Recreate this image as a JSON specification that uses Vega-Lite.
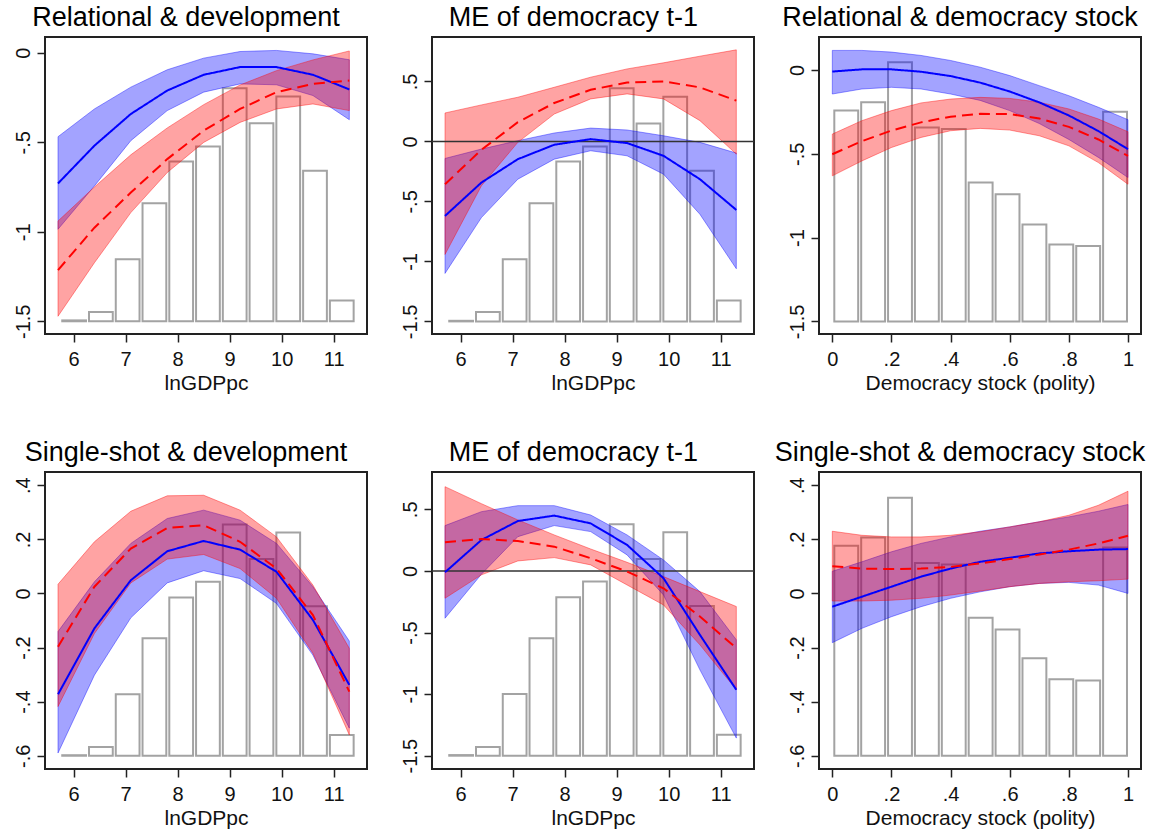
{
  "$schema": "https://vega.github.io/schema/vega-lite/v6.json",
  "background": "white",
  "padding": {"left": 12, "top": 3, "right": 5, "bottom": 2},
  "config": {
    "font": "Liberation Sans",
    "view": {"stroke": "#222222", "strokeWidth": 2},
    "axis": {"grid": false, "domain": false, "ticks": true, "tickSize": 8, "tickColor": "#222222", "tickWidth": 1.5,
             "labelFont": "Liberation Sans", "labelFontSize": 20, "labelColor": "#111111", "labelFlush": false, "labelOverlap": false,
             "titleFont": "Liberation Sans", "titleFontSize": 21, "titleFontWeight": "normal", "titleColor": "#111111"},
    "axisY": {"labelAngle": -90, "labelAlign": "center", "labelBaseline": "alphabetic", "labelPadding": 8},
    "axisX": {"labelPadding": 7, "labelBaseline": "top", "titleY": 55, "titleBaseline": "alphabetic"},
    "title": {"font": "Liberation Sans", "fontSize": 27, "fontWeight": "normal", "color": "#000000", "anchor": "middle", "frame": "bounds", "baseline": "alphabetic", "offset": 5, "dx": -4}
  },
  "datasets": {
    "h1": [
      {"x": 5.743, "xe": 6.2575, "top": -1.495}, {"x": 6.2575, "xe": 6.772, "top": -1.448}, {"x": 6.772, "xe": 7.2865, "top": -1.154},
      {"x": 7.2865, "xe": 7.801, "top": -0.84}, {"x": 7.801, "xe": 8.3155, "top": -0.607}, {"x": 8.3155, "xe": 8.83, "top": -0.523},
      {"x": 8.83, "xe": 9.3445, "top": -0.198}, {"x": 9.3445, "xe": 9.859, "top": -0.394}, {"x": 9.859, "xe": 10.3735, "top": -0.245},
      {"x": 10.3735, "xe": 10.888, "top": -0.659}, {"x": 10.888, "xe": 11.4025, "top": -1.384}
    ],
    "h2": [
      {"x": 5.743, "xe": 6.2575, "top": -1.495}, {"x": 6.2575, "xe": 6.772, "top": -1.421}, {"x": 6.772, "xe": 7.2865, "top": -0.983},
      {"x": 7.2865, "xe": 7.801, "top": -0.515}, {"x": 7.801, "xe": 8.3155, "top": -0.167}, {"x": 8.3155, "xe": 8.83, "top": -0.042},
      {"x": 8.83, "xe": 9.3445, "top": 0.443}, {"x": 9.3445, "xe": 9.859, "top": 0.15}, {"x": 9.859, "xe": 10.3735, "top": 0.373},
      {"x": 10.3735, "xe": 10.888, "top": -0.245}, {"x": 10.888, "xe": 11.4025, "top": -1.326}
    ],
    "h3": [
      {"x": 0, "xe": 0.0909, "top": -0.243}, {"x": 0.0909, "xe": 0.1818, "top": -0.193}, {"x": 0.1818, "xe": 0.2727, "top": 0.046},
      {"x": 0.2727, "xe": 0.3636, "top": -0.343}, {"x": 0.3636, "xe": 0.4545, "top": -0.353}, {"x": 0.4545, "xe": 0.5455, "top": -0.672},
      {"x": 0.5455, "xe": 0.6364, "top": -0.742}, {"x": 0.6364, "xe": 0.7273, "top": -0.922}, {"x": 0.7273, "xe": 0.8182, "top": -1.041},
      {"x": 0.8182, "xe": 0.9091, "top": -1.051}, {"x": 0.9091, "xe": 1.0, "top": -0.249}
    ],
    "h4": [
      {"x": 5.743, "xe": 6.2575, "top": -0.598}, {"x": 6.2575, "xe": 6.772, "top": -0.568}, {"x": 6.772, "xe": 7.2865, "top": -0.373},
      {"x": 7.2865, "xe": 7.801, "top": -0.166}, {"x": 7.801, "xe": 8.3155, "top": -0.015}, {"x": 8.3155, "xe": 8.83, "top": 0.043},
      {"x": 8.83, "xe": 9.3445, "top": 0.255}, {"x": 9.3445, "xe": 9.859, "top": 0.127}, {"x": 9.859, "xe": 10.3735, "top": 0.225},
      {"x": 10.3735, "xe": 10.888, "top": -0.047}, {"x": 10.888, "xe": 11.4025, "top": -0.523}
    ],
    "h5": [
      {"x": 5.743, "xe": 6.2575, "top": -1.495}, {"x": 6.2575, "xe": 6.772, "top": -1.43}, {"x": 6.772, "xe": 7.2865, "top": -1.0},
      {"x": 7.2865, "xe": 7.801, "top": -0.546}, {"x": 7.801, "xe": 8.3155, "top": -0.214}, {"x": 8.3155, "xe": 8.83, "top": -0.086},
      {"x": 8.83, "xe": 9.3445, "top": 0.378}, {"x": 9.3445, "xe": 9.859, "top": 0.097}, {"x": 9.859, "xe": 10.3735, "top": 0.314},
      {"x": 10.3735, "xe": 10.888, "top": -0.284}, {"x": 10.888, "xe": 11.4025, "top": -1.33}
    ],
    "h6": [
      {"x": 0, "xe": 0.0909, "top": 0.176}, {"x": 0.0909, "xe": 0.1818, "top": 0.207}, {"x": 0.1818, "xe": 0.2727, "top": 0.354},
      {"x": 0.2727, "xe": 0.3636, "top": 0.113}, {"x": 0.3636, "xe": 0.4545, "top": 0.107}, {"x": 0.4545, "xe": 0.5455, "top": -0.09},
      {"x": 0.5455, "xe": 0.6364, "top": -0.133}, {"x": 0.6364, "xe": 0.7273, "top": -0.24}, {"x": 0.7273, "xe": 0.8182, "top": -0.317},
      {"x": 0.8182, "xe": 0.9091, "top": -0.322}, {"x": 0.9091, "xe": 1.0, "top": 0.17}
    ],
    "c1": [
      {"x": 5.7, "s": "b", "est": -0.73, "lo": -0.986, "hi": -0.469},
      {"x": 6.4, "s": "b", "est": -0.519, "lo": -0.744, "hi": -0.314},
      {"x": 7.1, "s": "b", "est": -0.342, "lo": -0.491, "hi": -0.192},
      {"x": 7.8, "s": "b", "est": -0.211, "lo": -0.323, "hi": -0.095},
      {"x": 8.5, "s": "b", "est": -0.123, "lo": -0.22, "hi": -0.03},
      {"x": 9.2, "s": "b", "est": -0.08, "lo": -0.174, "hi": 0.007},
      {"x": 9.9, "s": "b", "est": -0.08, "lo": -0.179, "hi": 0.013},
      {"x": 10.6, "s": "b", "est": -0.123, "lo": -0.239, "hi": -0.006},
      {"x": 11.3, "s": "b", "est": -0.205, "lo": -0.374, "hi": -0.039},
      {"x": 5.7, "s": "r", "est": -1.214, "lo": -1.472, "hi": -0.94},
      {"x": 6.4, "s": "r", "est": -0.977, "lo": -1.173, "hi": -0.75},
      {"x": 7.1, "s": "r", "est": -0.781, "lo": -0.893, "hi": -0.57},
      {"x": 7.8, "s": "r", "est": -0.594, "lo": -0.669, "hi": -0.42},
      {"x": 8.5, "s": "r", "est": -0.435, "lo": -0.501, "hi": -0.29},
      {"x": 9.2, "s": "r", "est": -0.314, "lo": -0.389, "hi": -0.18},
      {"x": 9.9, "s": "r", "est": -0.22, "lo": -0.314, "hi": -0.1},
      {"x": 10.6, "s": "r", "est": -0.174, "lo": -0.286, "hi": -0.04},
      {"x": 11.3, "s": "r", "est": -0.155, "lo": -0.323, "hi": 0.01}
    ],
    "c2": [
      {"x": 5.7, "s": "b", "est": -0.621, "lo": -1.1, "hi": -0.142},
      {"x": 6.4, "s": "b", "est": -0.343, "lo": -0.635, "hi": -0.064},
      {"x": 7.1, "s": "b", "est": -0.148, "lo": -0.315, "hi": 0.006},
      {"x": 7.8, "s": "b", "est": -0.028, "lo": -0.148, "hi": 0.07},
      {"x": 8.5, "s": "b", "est": 0.019, "lo": -0.078, "hi": 0.111},
      {"x": 9.2, "s": "b", "est": -0.014, "lo": -0.12, "hi": 0.095},
      {"x": 9.9, "s": "b", "est": -0.12, "lo": -0.273, "hi": 0.047},
      {"x": 10.6, "s": "b", "est": -0.315, "lo": -0.607, "hi": -0.008},
      {"x": 11.3, "s": "b", "est": -0.571, "lo": -1.061, "hi": -0.097},
      {"x": 5.7, "s": "r", "est": -0.357, "lo": -0.942, "hi": 0.237},
      {"x": 6.4, "s": "r", "est": -0.07, "lo": -0.37, "hi": 0.304},
      {"x": 7.1, "s": "r", "est": 0.16, "lo": -0.008, "hi": 0.368},
      {"x": 7.8, "s": "r", "est": 0.32, "lo": 0.228, "hi": 0.451},
      {"x": 8.5, "s": "r", "est": 0.43, "lo": 0.354, "hi": 0.535},
      {"x": 9.2, "s": "r", "est": 0.49, "lo": 0.396, "hi": 0.604},
      {"x": 9.9, "s": "r", "est": 0.5, "lo": 0.354, "hi": 0.655},
      {"x": 10.6, "s": "r", "est": 0.45, "lo": 0.173, "hi": 0.71},
      {"x": 11.3, "s": "r", "est": 0.34, "lo": -0.106, "hi": 0.763}
    ],
    "c3": [
      {"x": 0.0, "s": "b", "est": -0.01, "lo": -0.144, "hi": 0.116},
      {"x": 0.1, "s": "b", "est": 0.003, "lo": -0.114, "hi": 0.116},
      {"x": 0.2, "s": "b", "est": 0.003, "lo": -0.104, "hi": 0.106},
      {"x": 0.3, "s": "b", "est": -0.011, "lo": -0.114, "hi": 0.086},
      {"x": 0.4, "s": "b", "est": -0.037, "lo": -0.144, "hi": 0.056},
      {"x": 0.5, "s": "b", "est": -0.076, "lo": -0.182, "hi": 0.016},
      {"x": 0.6, "s": "b", "est": -0.129, "lo": -0.243, "hi": -0.034},
      {"x": 0.7, "s": "b", "est": -0.194, "lo": -0.32, "hi": -0.094},
      {"x": 0.8, "s": "b", "est": -0.272, "lo": -0.415, "hi": -0.154},
      {"x": 0.9, "s": "b", "est": -0.365, "lo": -0.522, "hi": -0.223},
      {"x": 1.0, "s": "b", "est": -0.473, "lo": -0.642, "hi": -0.297},
      {"x": 0.0, "s": "r", "est": -0.503, "lo": -0.632, "hi": -0.383},
      {"x": 0.1, "s": "r", "est": -0.425, "lo": -0.543, "hi": -0.303},
      {"x": 0.2, "s": "r", "est": -0.362, "lo": -0.463, "hi": -0.243},
      {"x": 0.3, "s": "r", "est": -0.313, "lo": -0.403, "hi": -0.197},
      {"x": 0.4, "s": "r", "est": -0.279, "lo": -0.363, "hi": -0.174},
      {"x": 0.5, "s": "r", "est": -0.262, "lo": -0.349, "hi": -0.164},
      {"x": 0.6, "s": "r", "est": -0.264, "lo": -0.359, "hi": -0.17},
      {"x": 0.7, "s": "r", "est": -0.29, "lo": -0.393, "hi": -0.193},
      {"x": 0.8, "s": "r", "est": -0.34, "lo": -0.453, "hi": -0.233},
      {"x": 0.9, "s": "r", "est": -0.415, "lo": -0.553, "hi": -0.293},
      {"x": 1.0, "s": "r", "est": -0.513, "lo": -0.682, "hi": -0.369}
    ],
    "c4": [
      {"x": 5.7, "s": "b", "est": -0.373, "lo": -0.59, "hi": -0.141},
      {"x": 6.4, "s": "b", "est": -0.129, "lo": -0.302, "hi": 0.043},
      {"x": 7.1, "s": "b", "est": 0.049, "lo": -0.09, "hi": 0.185},
      {"x": 7.8, "s": "b", "est": 0.156, "lo": 0.039, "hi": 0.277},
      {"x": 8.5, "s": "b", "est": 0.194, "lo": 0.084, "hi": 0.308},
      {"x": 9.2, "s": "b", "est": 0.162, "lo": 0.055, "hi": 0.271},
      {"x": 9.9, "s": "b", "est": 0.08, "lo": -0.037, "hi": 0.185},
      {"x": 10.6, "s": "b", "est": -0.098, "lo": -0.228, "hi": 0.025},
      {"x": 11.3, "s": "b", "est": -0.338, "lo": -0.498, "hi": -0.176},
      {"x": 5.7, "s": "r", "est": -0.197, "lo": -0.418, "hi": 0.034},
      {"x": 6.4, "s": "r", "est": 0.025, "lo": -0.148, "hi": 0.191},
      {"x": 7.1, "s": "r", "est": 0.166, "lo": 0.039, "hi": 0.304},
      {"x": 7.8, "s": "r", "est": 0.242, "lo": 0.127, "hi": 0.361},
      {"x": 8.5, "s": "r", "est": 0.252, "lo": 0.144, "hi": 0.363},
      {"x": 9.2, "s": "r", "est": 0.191, "lo": 0.092, "hi": 0.308},
      {"x": 9.9, "s": "r", "est": 0.092, "lo": -0.018, "hi": 0.209},
      {"x": 10.6, "s": "r", "est": -0.08, "lo": -0.221, "hi": 0.031},
      {"x": 11.3, "s": "r", "est": -0.363, "lo": -0.523, "hi": -0.203}
    ],
    "c5": [
      {"x": 5.7, "s": "b", "est": -0.011, "lo": -0.384, "hi": 0.368},
      {"x": 6.4, "s": "b", "est": 0.251, "lo": -0.027, "hi": 0.481},
      {"x": 7.1, "s": "b", "est": 0.405, "lo": 0.278, "hi": 0.53},
      {"x": 7.8, "s": "b", "est": 0.449, "lo": 0.368, "hi": 0.53},
      {"x": 8.5, "s": "b", "est": 0.386, "lo": 0.319, "hi": 0.454},
      {"x": 9.2, "s": "b", "est": 0.211, "lo": 0.13, "hi": 0.292},
      {"x": 9.9, "s": "b", "est": -0.059, "lo": -0.195, "hi": 0.089},
      {"x": 10.6, "s": "b", "est": -0.519, "lo": -0.803, "hi": -0.168},
      {"x": 11.3, "s": "b", "est": -0.965, "lo": -1.357, "hi": -0.559},
      {"x": 5.7, "s": "r", "est": 0.232, "lo": -0.222, "hi": 0.684},
      {"x": 6.4, "s": "r", "est": 0.259, "lo": -0.032, "hi": 0.546},
      {"x": 7.1, "s": "r", "est": 0.243, "lo": 0.081, "hi": 0.414},
      {"x": 7.8, "s": "r", "est": 0.197, "lo": 0.108, "hi": 0.292},
      {"x": 8.5, "s": "r", "est": 0.103, "lo": 0.049, "hi": 0.178},
      {"x": 9.2, "s": "r", "est": -0.005, "lo": -0.114, "hi": 0.07},
      {"x": 9.9, "s": "r", "est": -0.141, "lo": -0.276, "hi": -0.046},
      {"x": 10.6, "s": "r", "est": -0.37, "lo": -0.6, "hi": -0.168},
      {"x": 11.3, "s": "r", "est": -0.627, "lo": -0.965, "hi": -0.289}
    ],
    "c6": [
      {"x": 0.0, "s": "b", "est": -0.049, "lo": -0.182, "hi": 0.082},
      {"x": 0.1, "s": "b", "est": -0.012, "lo": -0.129, "hi": 0.117},
      {"x": 0.2, "s": "b", "est": 0.025, "lo": -0.086, "hi": 0.154},
      {"x": 0.3, "s": "b", "est": 0.062, "lo": -0.049, "hi": 0.185},
      {"x": 0.4, "s": "b", "est": 0.092, "lo": -0.018, "hi": 0.209},
      {"x": 0.5, "s": "b", "est": 0.117, "lo": 0.006, "hi": 0.23},
      {"x": 0.6, "s": "b", "est": 0.132, "lo": 0.025, "hi": 0.246},
      {"x": 0.7, "s": "b", "est": 0.148, "lo": 0.037, "hi": 0.265},
      {"x": 0.8, "s": "b", "est": 0.156, "lo": 0.041, "hi": 0.283},
      {"x": 0.9, "s": "b", "est": 0.162, "lo": 0.031, "hi": 0.304},
      {"x": 1.0, "s": "b", "est": 0.164, "lo": 0.0, "hi": 0.329},
      {"x": 0.0, "s": "r", "est": 0.101, "lo": -0.028, "hi": 0.23},
      {"x": 0.1, "s": "r", "est": 0.092, "lo": -0.028, "hi": 0.215},
      {"x": 0.2, "s": "r", "est": 0.09, "lo": -0.025, "hi": 0.209},
      {"x": 0.3, "s": "r", "est": 0.092, "lo": -0.018, "hi": 0.209},
      {"x": 0.4, "s": "r", "est": 0.098, "lo": -0.006, "hi": 0.215},
      {"x": 0.5, "s": "r", "est": 0.111, "lo": 0.009, "hi": 0.228},
      {"x": 0.6, "s": "r", "est": 0.127, "lo": 0.025, "hi": 0.246},
      {"x": 0.7, "s": "r", "est": 0.144, "lo": 0.037, "hi": 0.265},
      {"x": 0.8, "s": "r", "est": 0.162, "lo": 0.043, "hi": 0.289},
      {"x": 0.9, "s": "r", "est": 0.185, "lo": 0.047, "hi": 0.326},
      {"x": 1.0, "s": "r", "est": 0.213, "lo": 0.053, "hi": 0.378}
    ]
  },
  "columns": 3,
  "spacing": {"row": 138, "column": 65},
  "bounds": "flush",
  "concat": [
    {
      "title": "Relational & development",
      "width": 322, "height": 297,
      "layer": [
        {"data": {"name": "h1"},
         "mark": {"type": "bar", "fill": "white", "stroke": "#a3a3a3", "strokeWidth": 2, "binSpacing": 3},
         "encoding": {
           "x": {"field": "x", "type": "quantitative", "bin": "binned", "title": "lnGDPpc",
                 "scale": {"domain": [5.45, 11.64], "nice": false, "zero": false},
                 "axis": {"values": [6, 7, 8, 9, 10, 11], "labelExpr": "replace(toString(datum.value), '0.', '.')"}},
           "x2": {"field": "xe"},
           "y": {"field": "top", "type": "quantitative", "title": null,
                 "scale": {"domain": [-1.571, 0.088], "nice": false, "zero": false},
                 "axis": {"values": [-1.5, -1, -0.5, 0], "labelExpr": "replace(toString(datum.value), '0.', '.')"}},
           "y2": {"datum": -1.5}}},
        {"data": {"name": "c1"},
         "mark": {"type": "area", "fillOpacity": 0.36, "strokeOpacity": 0.4, "strokeWidth": 1},
         "encoding": {
           "x": {"field": "x", "type": "quantitative", "title": "lnGDPpc"},
           "y": {"field": "lo", "type": "quantitative", "title": null, "stack": null},
           "y2": {"field": "hi"},
           "fill": {"field": "s", "type": "nominal", "scale": {"domain": ["b", "r"], "range": ["#0000ff", "#ff0000"]}, "legend": null},
           "stroke": {"field": "s", "type": "nominal", "scale": {"domain": ["b", "r"], "range": ["#0000ff", "#ff0000"]}, "legend": null}}},
        {"data": {"name": "c1"},
         "mark": {"type": "line", "strokeWidth": 2},
         "encoding": {
           "x": {"field": "x", "type": "quantitative", "title": "lnGDPpc"},
           "y": {"field": "est", "type": "quantitative", "title": null},
           "stroke": {"field": "s", "type": "nominal", "scale": {"domain": ["b", "r"], "range": ["#0000ff", "#ff0000"]}, "legend": null},
           "strokeDash": {"field": "s", "type": "nominal", "scale": {"domain": ["b", "r"], "range": [[1, 0], [11, 6]]}, "legend": null}}}
      ]
    },
    {
      "title": "ME of democracy t-1",
      "width": 322, "height": 297,
      "layer": [
        {"data": {"name": "h2"},
         "mark": {"type": "bar", "fill": "white", "stroke": "#a3a3a3", "strokeWidth": 2, "binSpacing": 3},
         "encoding": {
           "x": {"field": "x", "type": "quantitative", "bin": "binned", "title": "lnGDPpc",
                 "scale": {"domain": [5.45, 11.64], "nice": false, "zero": false},
                 "axis": {"values": [6, 7, 8, 9, 10, 11], "labelExpr": "replace(toString(datum.value), '0.', '.')"}},
           "x2": {"field": "xe"},
           "y": {"field": "top", "type": "quantitative", "title": null,
                 "scale": {"domain": [-1.605, 0.87], "nice": false, "zero": false},
                 "axis": {"values": [-1.5, -1, -0.5, 0, 0.5], "labelExpr": "replace(toString(datum.value), '0.', '.')"}},
           "y2": {"datum": -1.5}}},
        {"data": {"name": "c2"},
         "mark": {"type": "area", "fillOpacity": 0.36, "strokeOpacity": 0.4, "strokeWidth": 1},
         "encoding": {
           "x": {"field": "x", "type": "quantitative", "title": "lnGDPpc"},
           "y": {"field": "lo", "type": "quantitative", "title": null, "stack": null},
           "y2": {"field": "hi"},
           "fill": {"field": "s", "type": "nominal", "scale": {"domain": ["b", "r"], "range": ["#0000ff", "#ff0000"]}, "legend": null},
           "stroke": {"field": "s", "type": "nominal", "scale": {"domain": ["b", "r"], "range": ["#0000ff", "#ff0000"]}, "legend": null}}},
        {"data": {"values": [{}]},
         "mark": {"type": "rule", "color": "#333333", "strokeWidth": 1.5},
         "encoding": {"y": {"datum": 0}}},
        {"data": {"name": "c2"},
         "mark": {"type": "line", "strokeWidth": 2},
         "encoding": {
           "x": {"field": "x", "type": "quantitative", "title": "lnGDPpc"},
           "y": {"field": "est", "type": "quantitative", "title": null},
           "stroke": {"field": "s", "type": "nominal", "scale": {"domain": ["b", "r"], "range": ["#0000ff", "#ff0000"]}, "legend": null},
           "strokeDash": {"field": "s", "type": "nominal", "scale": {"domain": ["b", "r"], "range": [[1, 0], [11, 6]]}, "legend": null}}}
      ]
    },
    {
      "title": "Relational & democracy stock",
      "width": 322, "height": 297,
      "layer": [
        {"data": {"name": "h3"},
         "mark": {"type": "bar", "fill": "white", "stroke": "#a3a3a3", "strokeWidth": 2, "binSpacing": 3},
         "encoding": {
           "x": {"field": "x", "type": "quantitative", "bin": "binned", "title": "Democracy stock (polity)",
                 "scale": {"domain": [-0.045, 1.044], "nice": false, "zero": false},
                 "axis": {"values": [0, 0.2, 0.4, 0.6, 0.8, 1], "labelExpr": "replace(toString(datum.value), '0.', '.')"}},
           "x2": {"field": "xe"},
           "y": {"field": "top", "type": "quantitative", "title": null,
                 "scale": {"domain": [-1.575, 0.196], "nice": false, "zero": false},
                 "axis": {"values": [-1.5, -1, -0.5, 0], "labelExpr": "replace(toString(datum.value), '0.', '.')"}},
           "y2": {"datum": -1.5}}},
        {"data": {"name": "c3"},
         "mark": {"type": "area", "fillOpacity": 0.36, "strokeOpacity": 0.4, "strokeWidth": 1},
         "encoding": {
           "x": {"field": "x", "type": "quantitative", "title": "Democracy stock (polity)"},
           "y": {"field": "lo", "type": "quantitative", "title": null, "stack": null},
           "y2": {"field": "hi"},
           "fill": {"field": "s", "type": "nominal", "scale": {"domain": ["b", "r"], "range": ["#0000ff", "#ff0000"]}, "legend": null},
           "stroke": {"field": "s", "type": "nominal", "scale": {"domain": ["b", "r"], "range": ["#0000ff", "#ff0000"]}, "legend": null}}},
        {"data": {"name": "c3"},
         "mark": {"type": "line", "strokeWidth": 2},
         "encoding": {
           "x": {"field": "x", "type": "quantitative", "title": "Democracy stock (polity)"},
           "y": {"field": "est", "type": "quantitative", "title": null},
           "stroke": {"field": "s", "type": "nominal", "scale": {"domain": ["b", "r"], "range": ["#0000ff", "#ff0000"]}, "legend": null},
           "strokeDash": {"field": "s", "type": "nominal", "scale": {"domain": ["b", "r"], "range": [[1, 0], [11, 6]]}, "legend": null}}}
      ]
    },
    {
      "title": "Single-shot & development",
      "width": 322, "height": 297,
      "layer": [
        {"data": {"name": "h4"},
         "mark": {"type": "bar", "fill": "white", "stroke": "#a3a3a3", "strokeWidth": 2, "binSpacing": 3},
         "encoding": {
           "x": {"field": "x", "type": "quantitative", "bin": "binned", "title": "lnGDPpc",
                 "scale": {"domain": [5.45, 11.64], "nice": false, "zero": false},
                 "axis": {"values": [6, 7, 8, 9, 10, 11], "labelExpr": "replace(toString(datum.value), '0.', '.')"}},
           "x2": {"field": "xe"},
           "y": {"field": "top", "type": "quantitative", "title": null,
                 "scale": {"domain": [-0.649, 0.449], "nice": false, "zero": false},
                 "axis": {"values": [-0.6, -0.4, -0.2, 0, 0.2, 0.4], "labelExpr": "replace(toString(datum.value), '0.', '.')"}},
           "y2": {"datum": -0.6}}},
        {"data": {"name": "c4"},
         "mark": {"type": "area", "fillOpacity": 0.36, "strokeOpacity": 0.4, "strokeWidth": 1},
         "encoding": {
           "x": {"field": "x", "type": "quantitative", "title": "lnGDPpc"},
           "y": {"field": "lo", "type": "quantitative", "title": null, "stack": null},
           "y2": {"field": "hi"},
           "fill": {"field": "s", "type": "nominal", "scale": {"domain": ["b", "r"], "range": ["#0000ff", "#ff0000"]}, "legend": null},
           "stroke": {"field": "s", "type": "nominal", "scale": {"domain": ["b", "r"], "range": ["#0000ff", "#ff0000"]}, "legend": null}}},
        {"data": {"name": "c4"},
         "mark": {"type": "line", "strokeWidth": 2},
         "encoding": {
           "x": {"field": "x", "type": "quantitative", "title": "lnGDPpc"},
           "y": {"field": "est", "type": "quantitative", "title": null},
           "stroke": {"field": "s", "type": "nominal", "scale": {"domain": ["b", "r"], "range": ["#0000ff", "#ff0000"]}, "legend": null},
           "strokeDash": {"field": "s", "type": "nominal", "scale": {"domain": ["b", "r"], "range": [[1, 0], [11, 6]]}, "legend": null}}}
      ]
    },
    {
      "title": "ME of democracy t-1",
      "width": 322, "height": 297,
      "layer": [
        {"data": {"name": "h5"},
         "mark": {"type": "bar", "fill": "white", "stroke": "#a3a3a3", "strokeWidth": 2, "binSpacing": 3},
         "encoding": {
           "x": {"field": "x", "type": "quantitative", "bin": "binned", "title": "lnGDPpc",
                 "scale": {"domain": [5.45, 11.64], "nice": false, "zero": false},
                 "axis": {"values": [6, 7, 8, 9, 10, 11], "labelExpr": "replace(toString(datum.value), '0.', '.')"}},
           "x2": {"field": "xe"},
           "y": {"field": "top", "type": "quantitative", "title": null,
                 "scale": {"domain": [-1.608, 0.803], "nice": false, "zero": false},
                 "axis": {"values": [-1.5, -1, -0.5, 0, 0.5], "labelExpr": "replace(toString(datum.value), '0.', '.')"}},
           "y2": {"datum": -1.5}}},
        {"data": {"name": "c5"},
         "mark": {"type": "area", "fillOpacity": 0.36, "strokeOpacity": 0.4, "strokeWidth": 1},
         "encoding": {
           "x": {"field": "x", "type": "quantitative", "title": "lnGDPpc"},
           "y": {"field": "lo", "type": "quantitative", "title": null, "stack": null},
           "y2": {"field": "hi"},
           "fill": {"field": "s", "type": "nominal", "scale": {"domain": ["b", "r"], "range": ["#0000ff", "#ff0000"]}, "legend": null},
           "stroke": {"field": "s", "type": "nominal", "scale": {"domain": ["b", "r"], "range": ["#0000ff", "#ff0000"]}, "legend": null}}},
        {"data": {"values": [{}]},
         "mark": {"type": "rule", "color": "#333333", "strokeWidth": 1.5},
         "encoding": {"y": {"datum": 0}}},
        {"data": {"name": "c5"},
         "mark": {"type": "line", "strokeWidth": 2},
         "encoding": {
           "x": {"field": "x", "type": "quantitative", "title": "lnGDPpc"},
           "y": {"field": "est", "type": "quantitative", "title": null},
           "stroke": {"field": "s", "type": "nominal", "scale": {"domain": ["b", "r"], "range": ["#0000ff", "#ff0000"]}, "legend": null},
           "strokeDash": {"field": "s", "type": "nominal", "scale": {"domain": ["b", "r"], "range": [[1, 0], [11, 6]]}, "legend": null}}}
      ]
    },
    {
      "title": "Single-shot & democracy stock",
      "width": 322, "height": 297,
      "layer": [
        {"data": {"name": "h6"},
         "mark": {"type": "bar", "fill": "white", "stroke": "#a3a3a3", "strokeWidth": 2, "binSpacing": 3},
         "encoding": {
           "x": {"field": "x", "type": "quantitative", "bin": "binned", "title": "Democracy stock (polity)",
                 "scale": {"domain": [-0.045, 1.044], "nice": false, "zero": false},
                 "axis": {"values": [0, 0.2, 0.4, 0.6, 0.8, 1], "labelExpr": "replace(toString(datum.value), '0.', '.')"}},
           "x2": {"field": "xe"},
           "y": {"field": "top", "type": "quantitative", "title": null,
                 "scale": {"domain": [-0.649, 0.449], "nice": false, "zero": false},
                 "axis": {"values": [-0.6, -0.4, -0.2, 0, 0.2, 0.4], "labelExpr": "replace(toString(datum.value), '0.', '.')"}},
           "y2": {"datum": -0.6}}},
        {"data": {"name": "c6"},
         "mark": {"type": "area", "fillOpacity": 0.36, "strokeOpacity": 0.4, "strokeWidth": 1},
         "encoding": {
           "x": {"field": "x", "type": "quantitative", "title": "Democracy stock (polity)"},
           "y": {"field": "lo", "type": "quantitative", "title": null, "stack": null},
           "y2": {"field": "hi"},
           "fill": {"field": "s", "type": "nominal", "scale": {"domain": ["b", "r"], "range": ["#0000ff", "#ff0000"]}, "legend": null},
           "stroke": {"field": "s", "type": "nominal", "scale": {"domain": ["b", "r"], "range": ["#0000ff", "#ff0000"]}, "legend": null}}},
        {"data": {"name": "c6"},
         "mark": {"type": "line", "strokeWidth": 2},
         "encoding": {
           "x": {"field": "x", "type": "quantitative", "title": "Democracy stock (polity)"},
           "y": {"field": "est", "type": "quantitative", "title": null},
           "stroke": {"field": "s", "type": "nominal", "scale": {"domain": ["b", "r"], "range": ["#0000ff", "#ff0000"]}, "legend": null},
           "strokeDash": {"field": "s", "type": "nominal", "scale": {"domain": ["b", "r"], "range": [[1, 0], [11, 6]]}, "legend": null}}}
      ]
    }
  ]
}
